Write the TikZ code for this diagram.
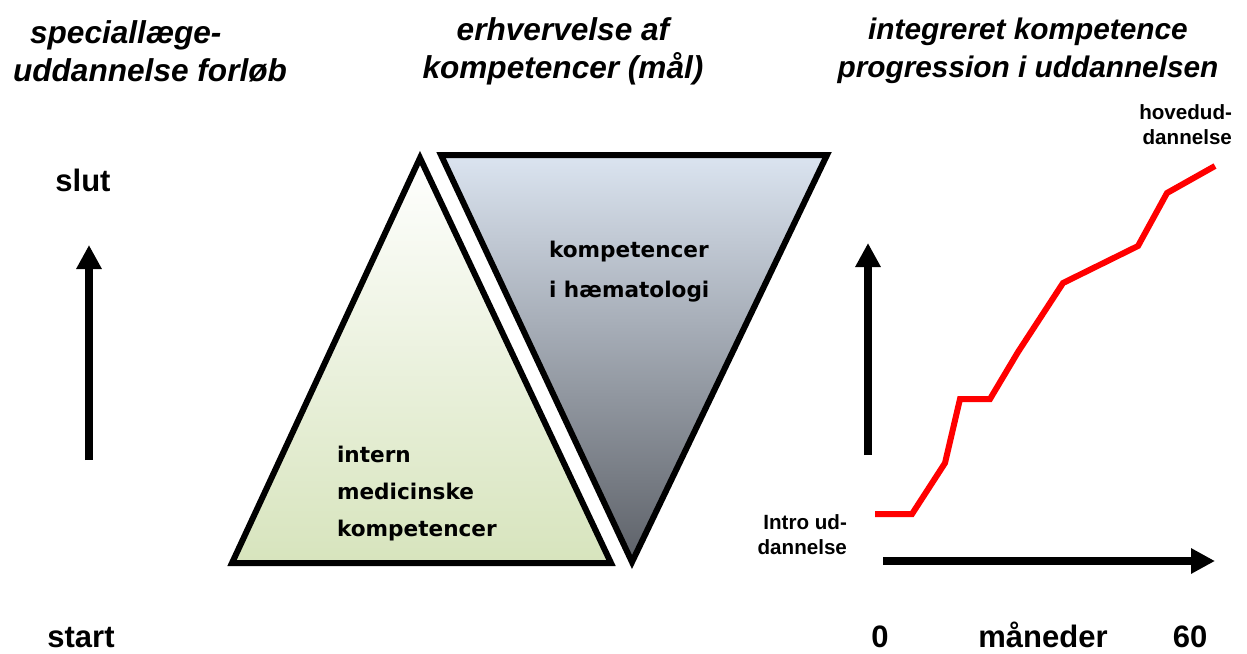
\documentclass[tikz,border=0pt]{standalone}
\usepackage{fontspec}
\setmainfont{Liberation Sans}
\newfontfamily\comicfont{DejaVu Sans}
\usepackage{tikz}
\usetikzlibrary{arrows.meta}
\definecolor{greenbot}{HTML}{D7E4BD}
\definecolor{bluetop}{HTML}{DBE4F0}
\definecolor{bluemid}{HTML}{B6BCC6}
\definecolor{greybot}{HTML}{5D6168}
\definecolor{redline}{HTML}{FF0000}
\tikzset{
  every picture/.style={line join=round, line cap=round, >=Stealth},
  heading/.style={font=\fontsize{15.8}{19}\selectfont\bfseries\itshape, align=center},
  axislbl/.style={font=\fontsize{15.5}{18}\selectfont\bfseries},
  bottomlbl/.style={axislbl, anchor=base, inner sep=0pt},
  smalllbl/.style={font=\fontsize{10.3}{12.5}\selectfont\bfseries, align=right},
  comictxt/.style={font=\comicfont\fontsize{10.8}{18.5}\selectfont\bfseries, align=left},
  triangle/.style={line width=3pt, line join=miter, draw=black},
  bigarrow/.style={line width=4pt, line cap=butt, -{Triangle[length=12pt,width=12pt]}},
  redcurve/.style={line width=3pt, draw=redline, line cap=butt, line join=miter},
}

\begin{document}
\begin{tikzpicture}[x=0.5pt,y=-0.5pt]
\useasboundingbox (0,0) rectangle (1247,653);
\node[heading, align=left, anchor=west] (hleft) at (6,51) {\hspace*{8.5pt}speciallæge-\\uddannelse forløb};
\node[heading] (hmid) at (563,51) {erhvervelse af\\kompetencer (mål)};
\node[heading, font=\fontsize{14.9}{19}\selectfont\bfseries\itshape] (hright) at (1028,51) {integreret kompetence\\progression i uddannelsen};

\node[axislbl] (slut) at (83,180) {slut};
\node[bottomlbl] (start) at (81,647) {start};
\coordinate (lbot) at (89,460);
\coordinate (ltop) at (89,245);
\draw[bigarrow] (lbot) -- (ltop);

\shadedraw[triangle, top color=white, bottom color=greenbot]
  (420,158) -- (611,563) -- (232,563) -- cycle;
\shadedraw[triangle, top color=bluetop, middle color=bluemid, bottom color=greybot]
  (441,155) -- (827,155) -- (632,562) -- cycle;
\node[comictxt, anchor=west] (intern) at (330,494) {intern\\medicinske\\kompetencer};
\node[comictxt, anchor=west, font=\comicfont\fontsize{10.8}{20}\selectfont\bfseries] (haem) at (542,272) {kompetencer\\i hæmatologi};

\coordinate (vbot) at (868,455);
\coordinate (vtop) at (868,243);
\coordinate (hbot) at (883,561);
\coordinate (htop) at (1215,561);
\draw[bigarrow] (vbot) -- (vtop);
\draw[bigarrow] (hbot) -- (htop);

\draw[redcurve] (875,514) -- (912,514) -- (945,463) -- (960,399) -- (990,399)
  -- (1018,352) -- (1063,283) -- (1138,246) -- (1167,193) -- (1215,166);

\node[smalllbl, anchor=east] (intro) at (854,535) {Intro ud-\\dannelse};
\node[smalllbl, anchor=east] (hoved) at (1239,125) {hovedud-\\dannelse};

\node[bottomlbl] (nul) at (880,647) {0};
\node[bottomlbl] (maaned) at (1043,647) {måneder};
\node[bottomlbl] (tres) at (1190,647) {60};
\end{tikzpicture}
\end{document}
